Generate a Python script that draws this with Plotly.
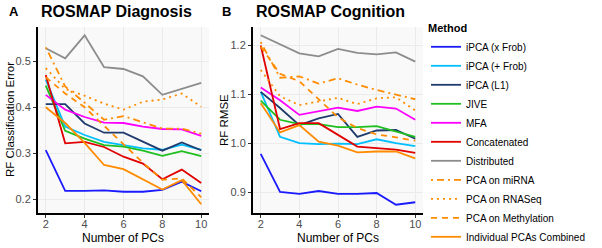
import plotly.graph_objects as go

pcs = [2, 3, 4, 5, 6, 7, 8, 9, 10]

methods = ["iPCA (x Frob)", "iPCA (+ Frob)", "iPCA (L1)", "JIVE", "MFA", "Concatenated",
           "Distributed", "PCA on miRNA", "PCA on RNASeq", "PCA on Methylation",
           "Individual PCAs Combined"]

# Panel A: ROSMAP Diagnosis (RF Classification Error)
diag_ipca_x = [0.307, 0.219, 0.219, 0.220, 0.217, 0.217, 0.221, 0.239, 0.218]
diag_ipca_plus = [0.460, 0.358, 0.340, 0.325, 0.318, 0.311, 0.308, 0.319, 0.308]
diag_ipca_l1 = [0.407, 0.407, 0.365, 0.345, 0.345, 0.325, 0.306, 0.324, 0.307]
diag_jive = [0.447, 0.349, 0.332, 0.318, 0.315, 0.306, 0.295, 0.305, 0.294]
diag_mfa = [0.427, 0.395, 0.379, 0.367, 0.366, 0.358, 0.353, 0.352, 0.338]
diag_concat = [0.470, 0.322, 0.325, 0.314, 0.293, 0.278, 0.244, 0.265, 0.236]
diag_distrib = [0.528, 0.506, 0.556, 0.487, 0.483, 0.467, 0.427, 0.440, 0.453]
diag_mirna = [0.530, 0.445, 0.410, 0.373, 0.381, 0.368, 0.354, 0.354, 0.343]
diag_rnaseq = [0.485, 0.440, 0.425, 0.408, 0.395, 0.412, 0.417, 0.430, 0.401]
diag_methyl = [0.465, 0.430, 0.400, 0.360, 0.322, 0.280, 0.243, 0.246, 0.205]
diag_combined = [0.400, 0.366, 0.323, 0.275, 0.266, 0.244, 0.222, 0.242, 0.190]

# Panel B: ROSMAP Cognition (RF RMSE)
cog_ipca_x = [0.978, 0.900, 0.896, 0.902, 0.896, 0.896, 0.898, 0.874, 0.879]
cog_ipca_plus = [1.105, 1.013, 1.000, 0.998, 0.999, 0.998, 1.008, 1.000, 0.994]
cog_ipca_l1 = [1.105, 1.072, 1.037, 1.051, 1.060, 1.013, 1.026, 1.027, 1.009]
cog_jive = [1.087, 1.048, 1.039, 1.039, 1.033, 1.033, 1.035, 1.024, 1.013]
cog_mfa = [1.114, 1.088, 1.058, 1.066, 1.073, 1.066, 1.075, 1.071, 1.048]
cog_concat = [1.200, 1.029, 1.041, 1.041, 1.017, 0.993, 0.990, 0.987, 0.980]
cog_distrib = [1.221, 1.202, 1.184, 1.178, 1.193, 1.185, 1.182, 1.186, 1.167]
cog_mirna = [1.207, 1.134, 1.137, 1.122, 1.133, 1.120, 1.109, 1.099, 1.090]
cog_rnaseq = [1.150, 1.096, 1.078, 1.085, 1.093, 1.080, 1.092, 1.094, 1.067]
cog_methyl = [1.198, 1.142, 1.127, 1.090, 1.053, 1.031, 1.018, 1.012, 1.005]
cog_combined = [1.082, 1.022, 1.037, 1.003, 0.995, 0.981, 0.983, 0.983, 0.969]

diag_series = [diag_ipca_x, diag_ipca_plus, diag_ipca_l1, diag_jive, diag_mfa, diag_concat,
               diag_distrib, diag_mirna, diag_rnaseq, diag_methyl, diag_combined]
cog_series = [cog_ipca_x, cog_ipca_plus, cog_ipca_l1, cog_jive, cog_mfa, cog_concat,
              cog_distrib, cog_mirna, cog_rnaseq, cog_methyl, cog_combined]

x_ticks = [2, 4, 6, 8, 10]
diag_ticks = [0.2, 0.3, 0.4, 0.5]
cog_ticks = [0.9, 1.0, 1.1, 1.2]

colors = ["#1a1aff", "#00bfff", "#1f3b6e", "#1fbf1f", "#ff00ff", "#e00000",
          "#8c8c8c", "#ff8c00", "#ff8c00", "#ff8c00", "#ff8c00"]
dashes = ["solid", "solid", "solid", "solid", "solid", "solid", "solid",
          "2px,4px,7px,4px", "2px,4px", "6px,5px", "solid"]

FONT = "Liberation Sans, Arial, sans-serif"

fig = go.Figure()
for i, name in enumerate(methods):
    fig.add_trace(go.Scatter(x=pcs, y=diag_series[i], mode="lines", name=name,
                             line=dict(color=colors[i], width=1.8, dash=dashes[i]),
                             xaxis="x", yaxis="y", legendgroup=name, showlegend=True))
for i, name in enumerate(methods):
    fig.add_trace(go.Scatter(x=pcs, y=cog_series[i], mode="lines", name=name,
                             line=dict(color=colors[i], width=1.8, dash=dashes[i]),
                             xaxis="x2", yaxis="y2", legendgroup=name, showlegend=False))

W, H = 602, 248
ydom = [1 - 213 / H, 1 - 27 / H]

axis_common = dict(showline=True, linecolor="black", linewidth=2, ticks="outside",
                   ticklen=3, tickcolor="#333333", showgrid=True, gridcolor="#ebebeb",
                   gridwidth=1, zeroline=False, automargin=False,
                   tickfont=dict(family=FONT, size=11, color="#4d4d4d"))

fig.update_layout(
    width=W, height=H,
    margin=dict(l=0, r=0, t=0, b=0, autoexpand=False),
    paper_bgcolor="white",
    plot_bgcolor="#f9f9f9",
    font=dict(family=FONT, size=10, color="black"),
    xaxis=dict(domain=[38 / W, 209 / W], range=[1.6, 10.4], tickvals=x_ticks,
               ticktext=[str(v) for v in x_ticks], anchor="y", ticklabelstandoff=-3,
               **axis_common),
    yaxis=dict(domain=ydom, range=[0.171, 0.574], tickvals=diag_ticks,
               ticktext=[f"{v:.1f}" for v in diag_ticks], anchor="x", **axis_common),
    xaxis2=dict(domain=[253 / W, 423 / W], range=[1.6, 10.4], tickvals=x_ticks,
                ticktext=[str(v) for v in x_ticks], anchor="y2", ticklabelstandoff=-3,
                **axis_common),
    yaxis2=dict(domain=ydom, range=[0.857, 1.238], tickvals=cog_ticks,
                ticktext=[f"{v:.1f}" for v in cog_ticks], anchor="x2", **axis_common),
    legend=dict(x=426 / W, y=1 - 18 / H, xanchor="left", yanchor="top",
                title=dict(text="<b>Method</b>", font=dict(family=FONT, size=11)),
                font=dict(family=FONT, size=10, color="black"),
                itemwidth=30, tracegroupgap=0, bgcolor="rgba(0,0,0,0)"),
    showlegend=True,
)

def ann(text, x, y, size, bold=False, angle=0, xanchor="left", color="black"):
    fig.add_annotation(text=f"<b>{text}</b>" if bold else text, x=x / W, y=1 - y / H,
                       xref="paper", yref="paper", xanchor=xanchor, yanchor="middle",
                       showarrow=False, textangle=angle,
                       font=dict(family=FONT, size=size, color=color))

ann("A", 7, 12, 13, bold=True)
ann("B", 220, 12, 13, bold=True)
ann("ROSMAP Diagnosis", 39, 12, 16, bold=True)
ann("ROSMAP Cognition", 254, 12, 16, bold=True)
ann("Number of PCs", 123, 238, 12, xanchor="center")
ann("Number of PCs", 338, 238, 12, xanchor="center")
ann("RF Classification Error", 10, 120, 11.5, angle=-90, xanchor="center")
ann("RF RMSE", 224, 120, 11.5, angle=-90, xanchor="center")

fig.write_html("out.html", config={"displayModeBar": False},
               post_script="document.body.style.margin='0';document.body.style.overflow='hidden';")
